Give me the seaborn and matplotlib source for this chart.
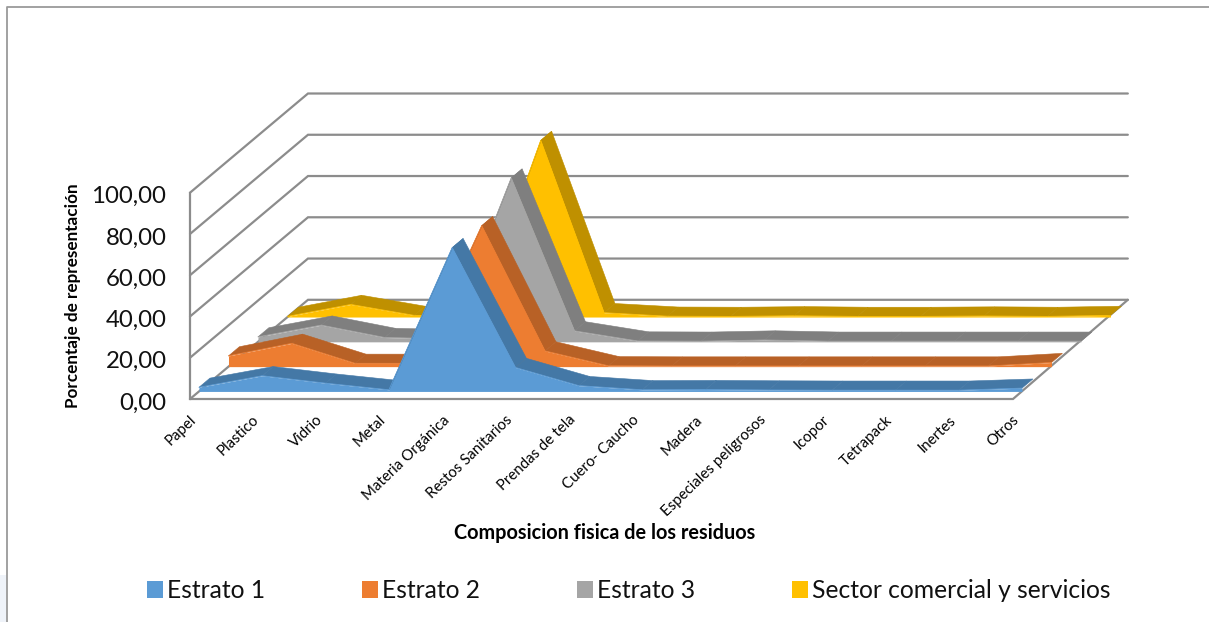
import matplotlib
matplotlib.use("Agg")
import matplotlib.pyplot as plt
from matplotlib.patches import Patch, Rectangle
from matplotlib.lines import Line2D
from matplotlib.transforms import ScaledTranslation
import numpy as np
import pandas as pd
import seaborn as sns

categories = ["Papel", "Plastico", "Vidrio", "Metal", "Materia Orgánica", "Restos Sanitarios",
              "Prendas de tela", "Cuero- Caucho", "Madera", "Especiales peligrosos", "Icopor",
              "Tetrapack", "Inertes", "Otros"]
estrato_1 = [2.0, 7.6, 4.0, 0.8, 69.7, 11.6, 2.8, 0.8, 0.9, 0.7, 0.6, 0.6, 0.6, 1.6]
estrato_2 = [5.2, 11.3, 1.6, 1.6, 68.3, 7.6, 0.4, 0.3, 0.3, 0.3, 0.3, 0.3, 0.3, 2.0]
estrato_3 = [2.4, 8.1, 2.1, 1.4, 79.4, 5.3, 0.4, 0.3, 0.9, 0.3, 0.3, 0.3, 0.3, 0.3]
sector = [0.3, 6.1, 0.8, 0.5, 85.6, 2.1, 0.4, 0.3, 0.6, 0.3, 0.3, 0.5, 0.3, 0.8]
series_names = ["Estrato 1", "Estrato 2", "Estrato 3", "Sector comercial y servicios"]
y_ticks = [0, 20, 40, 60, 80, 100]

W, H = 1209, 622
face_colors = ["#5B9BD5", "#ED7D31", "#A5A5A5", "#FFC000"]
top_colors = ["#4478A6", "#B86126", "#7F7F7F", "#BF9000"]
grid_color = "#8C8C8C"

sns.set_theme(style="white", palette=face_colors)
plt.rcParams["font.family"] = ["Lato", "DejaVu Sans"]

fig = plt.figure(figsize=(W / 100, H / 100), dpi=100, facecolor="white")
L, R, T, B = 190, 1013, 192.7, 399
ax = fig.add_axes([L / W, 1 - B / H, (R - L) / W, (B - T) / H])
ax.patch.set_alpha(0)

# Oblique projection of the 3-D area chart: one unit of depth = one series slot
DX = 29.5 / ((R - L) / 13)
DY = 24.8 / ((B - T) / 100)


def proj(cat, val, depth):
    d = np.asarray(depth, float)
    return np.asarray(cat, float) + DX * d, np.asarray(val, float) + DY * d


FRONT, BACK = 0.305, 0.675
WALL = 4.0
WALL_END = 12.95
gkw = dict(color=grid_color, lw=1.6, clip_on=False, solid_joinstyle="miter", zorder=1)
for v in y_ticks:
    xs, ys = proj([0, 0, WALL_END], [v, v, v], [0, WALL, WALL])
    ax.plot(xs, ys, **gkw)
xs, ys = proj([0, 13, WALL_END], [0, 0, 0], [0, 0, WALL])
ax.plot(xs, ys, **gkw)

cat_pos = np.arange(len(categories))
all_series = [estrato_1, estrato_2, estrato_3, sector]
frames = []
for i in reversed(range(4)):
    vals = np.array(all_series[i], float)
    z = 2 + (3 - i) * 2
    # ribbon on top of the area, running in depth
    for c in range(len(cat_pos) - 1):
        xa, ya = proj([c, c + 1, c + 1, c], [vals[c], vals[c + 1], vals[c + 1], vals[c]],
                      [i + FRONT, i + FRONT, i + BACK, i + BACK])
        ax.fill(xa, ya, color=top_colors[i], lw=0.4, clip_on=False, zorder=z)
    xf, yf = proj(cat_pos, vals, i + FRONT)
    _, y0 = proj(cat_pos, np.zeros_like(vals), i + FRONT)
    ax.fill_between(xf, y0, yf, color=face_colors[i], lw=0, clip_on=False, zorder=z + 1)
    frames.append(pd.DataFrame({"x": xf, "y": yf, "serie": series_names[i]}))

edge = pd.concat(frames, ignore_index=True)
for i in reversed(range(4)):
    sub = edge[edge["serie"] == series_names[i]]
    sns.lineplot(data=sub, x="x", y="y", color=face_colors[i], lw=0.6, sort=False,
                 estimator=None, ax=ax, legend=False, clip_on=False, zorder=2 + (3 - i) * 2 + 1)

sns.despine(ax=ax, top=True, right=True, bottom=True, left=False)
ax.spines["left"].set_color(grid_color)
ax.spines["left"].set_linewidth(1.6)
ax.set_yticks(y_ticks)
ax.set_yticklabels([f"{v:.2f}".replace(".", ",") for v in y_ticks], fontsize=17.3, color="#111111")
ax.tick_params(axis="y", length=0, pad=17)
down = ScaledTranslation(0, -2 / 100, fig.dpi_scale_trans)
for lab in ax.get_yticklabels():
    lab.set_transform(lab.get_transform() + down)
ax.set_xticks(cat_pos)
ax.set_xticklabels(categories, fontsize=10.8, rotation=44, ha="right", va="top",
                   rotation_mode="anchor", color="black")
ax.tick_params(axis="x", length=0, pad=10)
left = ScaledTranslation(-1 / 100, 0, fig.dpi_scale_trans)
for lab in ax.get_xticklabels():
    lab.set_transform(lab.get_transform() + left)
ax.set_xlabel("")
ax.set_ylabel("")
ax.set_xlim(0, 13)
ax.set_ylim(0, 100)
fig.text(605 / W, 1 - 533 / H, "Composicion fisica de los residuos", fontsize=14.3,
         fontweight="bold", ha="center", va="center", color="black")
fig.text(73 / W, 1 - 295.5 / H, "Porcentaje de representación", fontsize=12.3,
         fontweight="bold", rotation=90, ha="center", va="center", color="black")

handles = [Patch(facecolor=c, edgecolor="none", label=n) for c, n in zip(face_colors, series_names)]
fig.legend(handles=handles, ncol=4, loc="center", bbox_to_anchor=(628.5 / W, 1 - 591 / H),
           frameon=False, fontsize=17.7, handlelength=0.65, handleheight=0.68,
           handletextpad=0.16, columnspacing=3.95, labelcolor="#111111")

# outer frame of the picture and the pale backdrop showing at its lower left
fig.add_artist(Rectangle((0, 0), 5.5 / W, 47 / H, transform=fig.transFigure,
                         facecolor="#EFF3F9", edgecolor="none"))
fig.add_artist(Line2D([6.5 / W, 6.5 / W, 1], [0, 1 - 6.5 / H, 1 - 6.5 / H],
                      transform=fig.transFigure, color="#9A9A9A", lw=1.3))

fig.savefig("out.png", dpi=100, facecolor="white")
